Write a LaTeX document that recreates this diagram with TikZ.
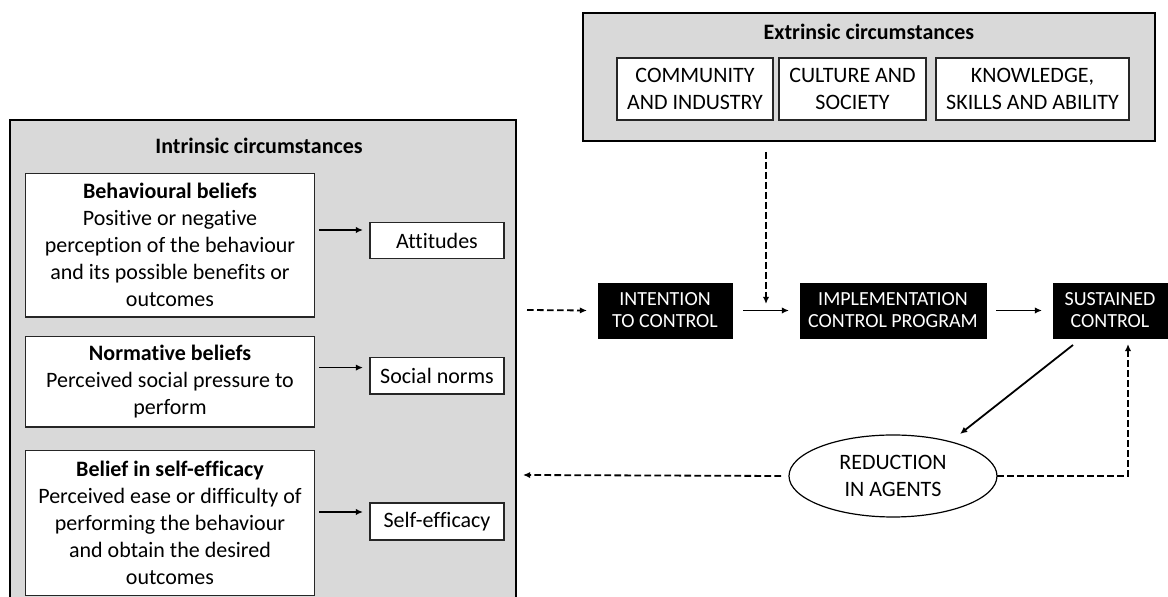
\documentclass[tikz,border=0pt]{standalone}
\usepackage{fontspec}
\setmainfont{Carlito}[Ligatures=CommonOff]
\usetikzlibrary{arrows.meta,shapes.geometric}
\definecolor{panelgray}{HTML}{D9D9D9}
\tikzset{
  every node/.style={inner sep=0pt, outer sep=0pt},
  panel/.style={draw=black, line width=1pt, fill=panelgray},
  whitebox/.style={draw=black!85, line width=0.6pt, fill=white, align=center,
    font=\fontsize{11}{13.5}\selectfont},
  blackbox/.style={draw=black, fill=black, text=white, align=center,
    font=\fontsize{10}{11}\selectfont, minimum height=27.5pt},
  paneltitle/.style={font=\bfseries\fontsize{11}{13.5}\selectfont},
  conn/.style={line width=0.9pt, -{Latex[length=3.6pt,width=3.2pt]}},
  dconn/.style={conn, dash pattern=on 3.3pt off 1.7pt}
}
\begin{document}
\begin{tikzpicture}[x=0.5pt, y=-0.5pt]
\useasboundingbox (0,0) rectangle (1168,597);
\clip (0,0) rectangle (1168,597);
\fill[white] (0,0) rectangle (1168,597);

% intrinsic circumstances panel
\node[panel, minimum width=253pt, minimum height=260pt] (intr) at (263,380) {};
\node[paneltitle] (intrtitle) at (259,145.5) {Intrinsic circumstances};
\node[whitebox, minimum width=144.35pt, minimum height=71.7pt] (beh) at (170,245.3)
  {{\bfseries Behavioural beliefs}\\Positive or negative\\perception of the behaviour\\and its possible benefits or\\outcomes};
\node[whitebox, minimum width=144.35pt, minimum height=45.25pt] (norm) at (170,381.75)
  {{\bfseries Normative beliefs}\\Perceived social pressure to\\perform};
\node[whitebox, minimum width=144.35pt, minimum height=72.5pt] (self) at (170,523.3)
  {{\bfseries Belief in self-efficacy}\\Perceived ease or difficulty of\\performing the behaviour\\and obtain the desired\\outcomes};
\node[whitebox, minimum width=67pt, minimum height=18.05pt] (att) at (437,240.65) {Attitudes};
\node[whitebox, minimum width=67pt, minimum height=18.1pt] (soc) at (437,375.9) {Social norms};
\node[whitebox, minimum width=67pt, minimum height=18.5pt] (seff) at (437,521.5) {Self-efficacy};

\coordinate (a1s) at (319,230);   \coordinate (a1e) at (363,230);
\coordinate (a2s) at (319,367.6); \coordinate (a2e) at (363,367.6);
\coordinate (a3s) at (319,512);   \coordinate (a3e) at (363,512);
\draw[conn] (a1s) -- (a1e);
\draw[conn] (a2s) -- (a2e);
\draw[conn] (a3s) -- (a3e);

% extrinsic circumstances panel
\node[panel, minimum width=286pt, minimum height=64pt] (extr) at (869,77) {};
\node[paneltitle] (extrtitle) at (869,31.5) {Extrinsic circumstances};
\node[whitebox, minimum width=78pt, minimum height=31pt] (comm) at (695,89) {COMMUNITY\\AND INDUSTRY};
\node[whitebox, minimum width=73.5pt, minimum height=31pt] (cult) at (852.5,89) {CULTURE AND\\SOCIETY};
\node[whitebox, minimum width=96.5pt, minimum height=31pt] (know) at (1032.5,89) {KNOWLEDGE,\\SKILLS AND ABILITY};

% main sequence
\node[blackbox, minimum width=67pt] (intent) at (665,310.5) {INTENTION\\TO CONTROL};
\node[blackbox, minimum width=93pt] (impl) at (893,310.5) {IMPLEMENTATION\\CONTROL PROGRAM};
\node[blackbox, minimum width=57pt] (sust) at (1110,310.5) {SUSTAINED\\CONTROL};
\node[draw=black, line width=0.6pt, fill=white, ellipse, minimum width=104pt,
  minimum height=41pt, align=center, font=\fontsize{11}{13.5}\selectfont]
  (red) at (893,476) {REDUCTION\\IN AGENTS};

\coordinate (inS) at (527,310);
\draw[dconn] (inS) -- ([xshift=-5.5pt]intent.west);
\draw[conn] ([xshift=5.5pt]intent.east) -- ([xshift=-5.5pt]impl.west);
\coordinate (extS) at (766,152);
\coordinate (extE) at (766,304);
\draw[dconn] (extS) -- (extE);
\draw[conn] ([xshift=5pt]impl.east) -- ([xshift=-5.5pt]sust.west);
\coordinate (dS) at (1073,345);
\coordinate (dE) at (960,434);
\draw[conn] (dS) -- (dE);
\coordinate (fbC) at (1128,476);
\coordinate (fbE) at (1128,344);
\draw[dconn] (red.east) -- (fbC) -- (fbE);
\coordinate (backE) at (523,475);
\draw[dconn] ([xshift=-4pt]red.west) -- (backE);
\end{tikzpicture}
\end{document}
